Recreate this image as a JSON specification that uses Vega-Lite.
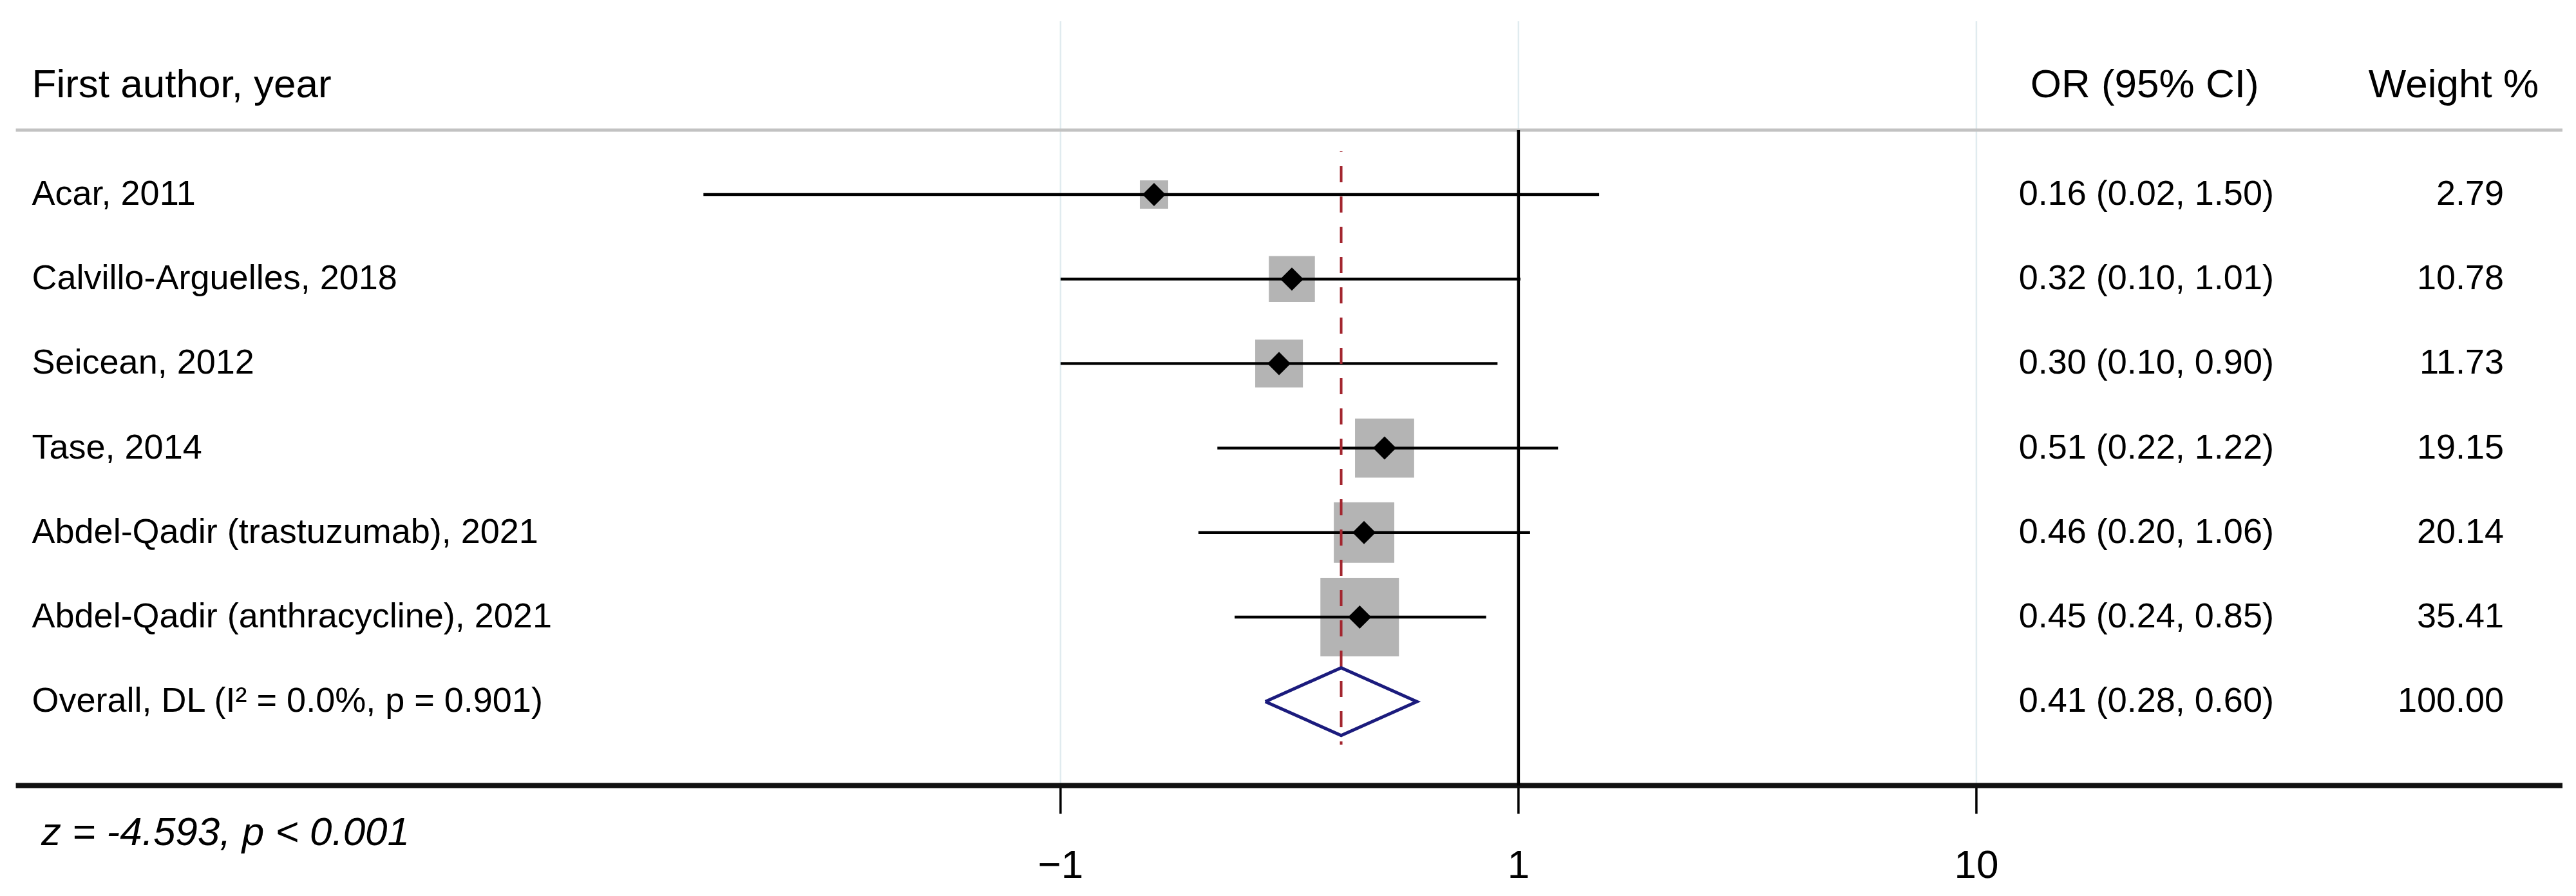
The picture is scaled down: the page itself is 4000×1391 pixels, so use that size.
{
  "$schema": "https://vega.github.io/schema/vega-lite/v6.json",
  "width": 4000,
  "height": 1219.5,
  "autosize": {"type": "none"},
  "padding": {"left": 0, "right": 0, "top": 0, "bottom": 171.5},
  "background": "white",
  "config": {"view": {"stroke": null}, "font": "Liberation Sans"},
  "datasets": {
    "studies": [
      {"row": 1, "label": "Acar, 2011", "est": 0.16, "lci": 0.0166, "uci": 1.50, "weight": 2.79, "ci": "0.16 (0.02, 1.50)", "wt": "2.79", "kind": "study"},
      {"row": 2, "label": "Calvillo-Arguelles, 2018", "est": 0.32, "lci": 0.10, "uci": 1.01, "weight": 10.78, "ci": "0.32 (0.10, 1.01)", "wt": "10.78", "kind": "study"},
      {"row": 3, "label": "Seicean, 2012", "est": 0.30, "lci": 0.10, "uci": 0.90, "weight": 11.73, "ci": "0.30 (0.10, 0.90)", "wt": "11.73", "kind": "study"},
      {"row": 4, "label": "Tase, 2014", "est": 0.51, "lci": 0.22, "uci": 1.22, "weight": 19.15, "ci": "0.51 (0.22, 1.22)", "wt": "19.15", "kind": "study"},
      {"row": 5, "label": "Abdel-Qadir (trastuzumab), 2021", "est": 0.46, "lci": 0.20, "uci": 1.06, "weight": 20.14, "ci": "0.46 (0.20, 1.06)", "wt": "20.14", "kind": "study"},
      {"row": 6, "label": "Abdel-Qadir (anthracycline), 2021", "est": 0.45, "lci": 0.24, "uci": 0.85, "weight": 35.41, "ci": "0.45 (0.24, 0.85)", "wt": "35.41", "kind": "study"},
      {"row": 7, "label": "Overall, DL (I² = 0.0%, p = 0.901)", "est": 0.41, "lci": 0.28, "uci": 0.60, "weight": 100.0, "ci": "0.41 (0.28, 0.60)", "wt": "100.00", "kind": "overall"}
    ],
    "diamond": [
      {"vertex": 1, "x": 0.28, "y": 7.0},
      {"vertex": 2, "x": 0.41, "y": 6.6},
      {"vertex": 3, "x": 0.60, "y": 7.0},
      {"vertex": 4, "x": 0.41, "y": 7.4},
      {"vertex": 5, "x": 0.28, "y": 7.0}
    ],
    "grid": [{"v": 0.1, "lab": "−1"}, {"v": 1, "lab": "1"}, {"v": 10, "lab": "10"}]
  },
  "layer": [
    {
      "data": {"name": "grid"},
      "mark": {"type": "rule", "color": "#e0ebef", "strokeWidth": 2.5},
      "encoding": {
        "x": {"field": "v", "type": "quantitative", "scale": {"type": "log", "domain": [0.000483, 203.9], "nice": false}, "axis": null},
        "y": {"datum": -1.05, "type": "quantitative", "scale": {"domain": [-1.3018, 7.9932], "reverse": true, "nice": false, "zero": false}, "axis": null},
        "y2": {"datum": 7.993}
      }
    },
    {
      "data": {"name": "grid"},
      "mark": {"type": "rule", "color": "#000000", "strokeWidth": 3.5},
      "encoding": {
        "x": {"field": "v", "type": "quantitative", "scale": {"type": "log", "domain": [0.000483, 203.9], "nice": false}, "axis": null},
        "y": {"datum": 7.993, "type": "quantitative", "scale": {"domain": [-1.3018, 7.9932], "reverse": true, "nice": false, "zero": false}, "axis": null},
        "y2": {"datum": 8.328}
      }
    },
    {
      "data": {"name": "grid"},
      "mark": {"type": "text", "align": "center", "baseline": "middle", "fontSize": 62, "font": "Liberation Sans", "color": "#000000"},
      "encoding": {
        "x": {"field": "v", "type": "quantitative", "scale": {"type": "log", "domain": [0.000483, 203.9], "nice": false}, "axis": null},
        "y": {"datum": 8.945, "type": "quantitative", "scale": {"domain": [-1.3018, 7.9932], "reverse": true, "nice": false, "zero": false}, "axis": null},
        "text": {"field": "lab"}
      }
    },
    {
      "data": {"values": [{}]},
      "mark": {"type": "rule", "color": "#c2c2c2", "strokeWidth": 5},
      "encoding": {
        "x": {"datum": 0.000523, "type": "quantitative", "scale": {"type": "log", "domain": [0.000483, 203.9], "nice": false}, "axis": null},
        "x2": {"datum": 190.5},
        "y": {"datum": 0.238, "type": "quantitative", "scale": {"domain": [-1.3018, 7.9932], "reverse": true, "nice": false, "zero": false}, "axis": null}
      }
    },
    {
      "data": {"values": [{}]},
      "mark": {"type": "rule", "color": "#111111", "strokeWidth": 8},
      "encoding": {
        "x": {"datum": 0.000523, "type": "quantitative", "scale": {"type": "log", "domain": [0.000483, 203.9], "nice": false}, "axis": null},
        "x2": {"datum": 190.5},
        "y": {"datum": 7.993, "type": "quantitative", "scale": {"domain": [-1.3018, 7.9932], "reverse": true, "nice": false, "zero": false}, "axis": null}
      }
    },
    {
      "data": {"values": [{}]},
      "mark": {"type": "rule", "color": "#000000", "strokeWidth": 4.5},
      "encoding": {
        "x": {"datum": 1, "type": "quantitative", "scale": {"type": "log", "domain": [0.000483, 203.9], "nice": false}, "axis": null},
        "y": {"datum": 0.238, "type": "quantitative", "scale": {"domain": [-1.3018, 7.9932], "reverse": true, "nice": false, "zero": false}, "axis": null},
        "y2": {"datum": 7.993}
      }
    },
    {
      "data": {"name": "studies"},
      "transform": [{"filter": "datum.kind == 'study'"}],
      "mark": {"type": "square", "filled": true, "color": "#b4b4b4", "opacity": 1},
      "encoding": {
        "x": {"field": "est", "type": "quantitative", "scale": {"type": "log", "domain": [0.000483, 203.9], "nice": false}, "axis": null},
        "y": {"field": "row", "type": "quantitative", "scale": {"domain": [-1.3018, 7.9932], "reverse": true, "nice": false, "zero": false}, "axis": null},
        "size": {"field": "weight", "type": "quantitative", "scale": {"domain": [2.79, 35.41], "range": [1936, 14884], "zero": false}, "legend": null}
      }
    },
    {
      "data": {"name": "studies"},
      "transform": [{"filter": "datum.kind == 'study'"}],
      "mark": {"type": "rule", "color": "#000000", "strokeWidth": 4.4},
      "encoding": {
        "x": {"field": "lci", "type": "quantitative", "scale": {"type": "log", "domain": [0.000483, 203.9], "nice": false}, "axis": null},
        "x2": {"field": "uci"},
        "y": {"field": "row", "type": "quantitative", "scale": {"domain": [-1.3018, 7.9932], "reverse": true, "nice": false, "zero": false}, "axis": null}
      }
    },
    {
      "data": {"name": "studies"},
      "transform": [{"filter": "datum.kind == 'overall'"}],
      "mark": {"type": "rule", "color": "#a3262f", "strokeWidth": 4, "strokeDash": [25, 22], "strokeDashOffset": 24},
      "encoding": {
        "x": {"field": "est", "type": "quantitative", "scale": {"type": "log", "domain": [0.000483, 203.9], "nice": false}, "axis": null},
        "y": {"datum": 0.489, "type": "quantitative", "scale": {"domain": [-1.3018, 7.9932], "reverse": true, "nice": false, "zero": false}, "axis": null},
        "y2": {"datum": 7.509}
      }
    },
    {
      "data": {"name": "studies"},
      "transform": [{"filter": "datum.kind == 'study'"}],
      "mark": {"type": "point", "shape": "diamond", "filled": true, "color": "#000000", "size": 1300, "opacity": 1},
      "encoding": {
        "x": {"field": "est", "type": "quantitative", "scale": {"type": "log", "domain": [0.000483, 203.9], "nice": false}, "axis": null},
        "y": {"field": "row", "type": "quantitative", "scale": {"domain": [-1.3018, 7.9932], "reverse": true, "nice": false, "zero": false}, "axis": null}
      }
    },
    {
      "data": {"name": "diamond"},
      "mark": {"type": "line", "color": "#1b1b7d", "strokeWidth": 5, "strokeJoin": "miter"},
      "encoding": {
        "x": {"field": "x", "type": "quantitative", "scale": {"type": "log", "domain": [0.000483, 203.9], "nice": false}, "axis": null},
        "y": {"field": "y", "type": "quantitative", "scale": {"domain": [-1.3018, 7.9932], "reverse": true, "nice": false, "zero": false}, "axis": null},
        "order": {"field": "vertex", "type": "quantitative"}
      }
    },
    {
      "data": {"name": "studies"},
      "mark": {"type": "text", "align": "left", "baseline": "middle", "fontSize": 54, "font": "Liberation Sans", "color": "#000000"},
      "encoding": {
        "x": {"datum": 0.000567, "type": "quantitative", "scale": {"type": "log", "domain": [0.000483, 203.9], "nice": false}, "axis": null},
        "y": {"field": "row", "type": "quantitative", "scale": {"domain": [-1.3018, 7.9932], "reverse": true, "nice": false, "zero": false}, "axis": null},
        "text": {"field": "label"}
      }
    },
    {
      "data": {"name": "studies"},
      "mark": {"type": "text", "align": "center", "baseline": "middle", "fontSize": 54, "font": "Liberation Sans", "color": "#000000"},
      "encoding": {
        "x": {"datum": 23.5, "type": "quantitative", "scale": {"type": "log", "domain": [0.000483, 203.9], "nice": false}, "axis": null},
        "y": {"field": "row", "type": "quantitative", "scale": {"domain": [-1.3018, 7.9932], "reverse": true, "nice": false, "zero": false}, "axis": null},
        "text": {"field": "ci"}
      }
    },
    {
      "data": {"name": "studies"},
      "mark": {"type": "text", "align": "right", "baseline": "middle", "fontSize": 54, "font": "Liberation Sans", "color": "#000000"},
      "encoding": {
        "x": {"datum": 141.9, "type": "quantitative", "scale": {"type": "log", "domain": [0.000483, 203.9], "nice": false}, "axis": null},
        "y": {"field": "row", "type": "quantitative", "scale": {"domain": [-1.3018, 7.9932], "reverse": true, "nice": false, "zero": false}, "axis": null},
        "text": {"field": "wt"}
      }
    },
    {
      "data": {"values": [{}]},
      "mark": {"type": "text", "align": "left", "baseline": "middle", "fontSize": 62, "font": "Liberation Sans", "color": "#000000"},
      "encoding": {
        "x": {"datum": 0.000567, "type": "quantitative", "scale": {"type": "log", "domain": [0.000483, 203.9], "nice": false}, "axis": null},
        "y": {"datum": -0.296, "type": "quantitative", "scale": {"domain": [-1.3018, 7.9932], "reverse": true, "nice": false, "zero": false}, "axis": null},
        "text": {"value": "First author, year"}
      }
    },
    {
      "data": {"values": [{}]},
      "mark": {"type": "text", "align": "center", "baseline": "middle", "fontSize": 62, "font": "Liberation Sans", "color": "#000000"},
      "encoding": {
        "x": {"datum": 23.3, "type": "quantitative", "scale": {"type": "log", "domain": [0.000483, 203.9], "nice": false}, "axis": null},
        "y": {"datum": -0.296, "type": "quantitative", "scale": {"domain": [-1.3018, 7.9932], "reverse": true, "nice": false, "zero": false}, "axis": null},
        "text": {"value": "OR (95% CI)"}
      }
    },
    {
      "data": {"values": [{}]},
      "mark": {"type": "text", "align": "right", "baseline": "middle", "fontSize": 62, "font": "Liberation Sans", "color": "#000000"},
      "encoding": {
        "x": {"datum": 169.0, "type": "quantitative", "scale": {"type": "log", "domain": [0.000483, 203.9], "nice": false}, "axis": null},
        "y": {"datum": -0.296, "type": "quantitative", "scale": {"domain": [-1.3018, 7.9932], "reverse": true, "nice": false, "zero": false}, "axis": null},
        "text": {"value": "Weight %"}
      }
    },
    {
      "data": {"values": [{}]},
      "mark": {"type": "text", "align": "left", "baseline": "middle", "fontSize": 62, "fontStyle": "italic", "font": "Liberation Sans", "color": "#000000"},
      "encoding": {
        "x": {"datum": 0.000594, "type": "quantitative", "scale": {"type": "log", "domain": [0.000483, 203.9], "nice": false}, "axis": null},
        "y": {"datum": 8.55, "type": "quantitative", "scale": {"domain": [-1.3018, 7.9932], "reverse": true, "nice": false, "zero": false}, "axis": null},
        "text": {"value": "z = -4.593, p < 0.001"}
      }
    }
  ]
}
